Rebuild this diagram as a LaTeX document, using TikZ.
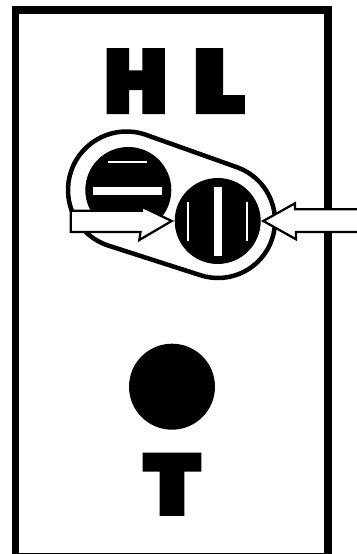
\documentclass[tikz,border=0pt]{standalone}
\usepackage{fontspec}
\usepackage{graphicx}
\usepackage{tikz}
\usetikzlibrary{calc}
\newfontfamily\signfont[FakeBold=5]{Poppins Black}
\newcommand{\signletter}[3]{\resizebox{#1}{#2}{\signfont #3}}

\begin{document}
\begin{tikzpicture}[
    x=0.02cm, y=0.02cm,
    frame/.style={draw, line width=0.15cm, fill=white},
    dial/.style={circle, fill=black, inner sep=0pt, minimum size=1.72cm},
    slot/.style={fill=white},
    rim/.style={draw, line width=0.09cm, fill=white},
    pointer/.style={draw, line width=0.045cm, fill=white, miter limit=4},
    sign/.style={inner sep=0pt, text=black}
]
\useasboundingbox (0,0) rectangle (357,554);
\clip (0,0) rectangle (357,554);
\draw[frame] (15.7,544.2) rectangle (328,-2.5);

\node[sign] (hh) at (135.8,472.9) {\signletter{1.25cm}{1.23cm}{H}};
\node[sign] (ll) at (218.8,472.9) {\signletter{1.02cm}{1.23cm}{L}};
\node[sign] (tt) at (172,69.7) {\signletter{1.12cm}{1.18cm}{T}};

\draw[rim] (126.5,364) ++(70.6:58.5) arc[start angle=70.6, end angle=251.8, radius=58.5]
    -- ($(218,333)+(251.8:57)$) arc[start angle=251.8, end angle=430.6, radius=57] -- cycle;

\node[dial] (dialh) at (128.3,364) {};
\node[dial] (dialv) at (217.7,333) {};
\node[dial] (dialt) at (172,167.3) {};

\fill[slot] (108.3,391) rectangle (147,393);
\fill[slot] (93,359) rectangle (162,367);
\fill[slot] (214,298) rectangle (222,367);
\fill[slot] (187,313.3) rectangle (189,352);
\fill[slot] (246,313.3) rectangle (248,352);

\draw[pointer] (70.7,343.3) -- (141.7,343.3) -- (141.7,347.3) -- (171.7,333) -- (139.3,314) -- (140.5,322) -- (70.7,322) -- cycle;
\draw[pointer] (263.3,333) -- (295,350.7) -- (295,344.7) -- (365,344.7) -- (365,322) -- (296,322) -- (296,314.7) -- cycle;
\end{tikzpicture}
\end{document}
